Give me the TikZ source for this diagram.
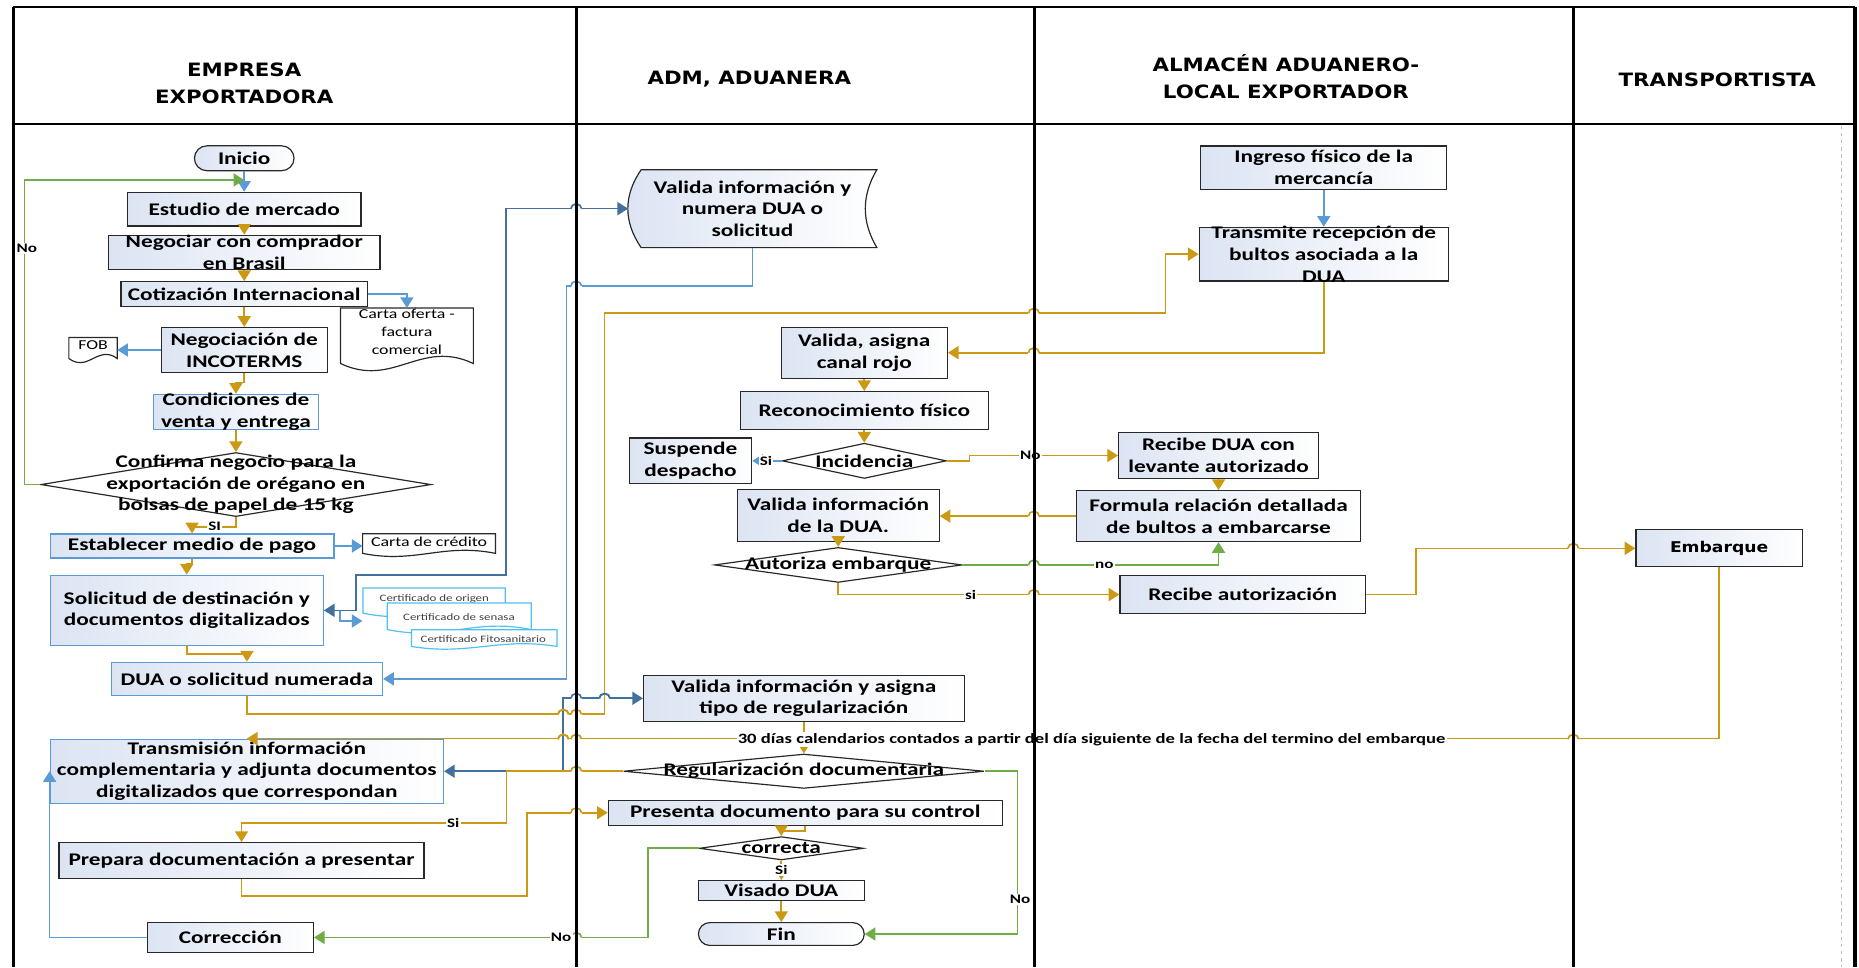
\documentclass[tikz,border=0pt]{standalone}
\usepackage{fontspec}
\setmainfont{Carlito}[FakeStretch=1.31]
\newfontfamily\hdrfont{DejaVu Sans}[FakeStretch=1.16]
\usetikzlibrary{shapes.geometric,arrows.meta,calc}

\definecolor{gd}{RGB}{204,153,20}
\definecolor{gr}{RGB}{112,173,71}
\definecolor{bl}{RGB}{91,155,213}
\definecolor{bd}{RGB}{65,113,156}
\definecolor{cy}{RGB}{79,193,239}
\definecolor{boxl}{RGB}{220,228,243}
\definecolor{edge}{RGB}{40,40,40}

\tikzset{
  every node/.style={inner sep=0pt},
  box/.style={rectangle, draw=edge, line width=1pt, left color=boxl, right color=white},
  bbox/.style={box, draw=bl},
  term/.style={box, rounded corners=9.5pt},
  dia/.style={diamond, draw=edge, line width=1pt, fill=white, aspect=1},
  ghost/.style={rectangle, draw=none},
  txt/.style={align=center, font=\bfseries\fontsize{15}{18.3}\selectfont},
  hdr/.style={align=center, font=\hdrfont\bfseries\fontsize{15.5}{22.5}\selectfont},
  small/.style={align=center, font=\fontsize{11.5}{15}\selectfont},
  tiny/.style={font=\fontsize{8.3}{10}\selectfont, text=black!75},
  lab/.style={font=\bfseries\fontsize{11}{12}\selectfont, fill=white, inner sep=1pt},
  lab30/.style={font=\bfseries\fontsize{12}{13}\selectfont, fill=white, inner sep=1pt},
  tip/.style={-{Triangle[length=9pt,width=11pt]}},
  gold/.style={draw=gd, line width=1.4pt, tip},
  gline/.style={draw=gr, line width=1.4pt, tip},
  bline/.style={draw=bl, line width=1.4pt, tip},
  bboth/.style={draw=bd, line width=1.4pt, {Triangle[length=9pt,width=11pt]}-{Triangle[length=9pt,width=11pt]}},
  lane/.style={draw=black, line width=2.6pt},
}

\newcommand\bx[7]{%
  \node[#6, minimum width=#4pt, minimum height=#5pt] (#1) at (#2,#3) {};
  \node[txt] (#1-t) at (#1.center) {#7};}
\newcommand\docshape[7]{% name,x,y,w,h,c,color
  \node[ghost, minimum width=#4pt, minimum height=#5pt] (#1) at (#2,#3) {};
  \draw[draw=#7, line width=1pt, fill=white] (#1.north west) -- (#1.north east) -- (#1.south east)
    .. controls ($(#1.south east)+(-0.4*#4,-#6)$) and ($(#1.south west)+(0.4*#4,#6)$) .. (#1.south west) -- cycle;}
\newcommand\hop[3]{%
  \fill[white] (#1-4.6,#2-1.6) rectangle (#1+4.6,#2+1.6);
  \draw[#3, line width=1.4pt] (#1-4.5,#2) arc[start angle=180, end angle=360, x radius=4.5, y radius=4];}
\newcommand\hopv[4]{%
  \hop{#1}{#2}{#3}
  \draw[#4, line width=1.4pt] (#1,#2-2) -- (#1,#2+2);
  \draw[#3, line width=1.4pt] (#1-4.5,#2) arc[start angle=180, end angle=360, x radius=4.5, y radius=4];}

\begin{document}
\begin{tikzpicture}[x=1pt,y=-1pt]
\useasboundingbox (0,0) rectangle (1568,816);
\fill[white] (0,0) rectangle (1568,816);

% ---------- headers ----------
\node[hdr] (h1) at (206,70.5) {EMPRESA\\EXPORTADORA};
\node[hdr] (h2) at (632,67) {ADM, ADUANERA};
\node[hdr] (h3) at (1084.6,64.4) {ALMACÉN ADUANERO-\\LOCAL EXPORTADOR};
\node[hdr] (h4) at (1448.4,67.7) {TRANSPORTISTA};

% ---------- lane 1 ----------
\bx{inicio}{206}{133.5}{84}{21}{term, rounded corners=10.5pt}{Inicio}
\bx{est}{206}{176.4}{197}{28.4}{box}{Estudio de mercado}
\bx{neg}{206}{212.8}{229}{28.7}{box}{Negociar con comprador\\en Brasil}
\bx{cot}{206}{248.1}{208}{21}{box}{Cotización Internacional}
\docshape{carta}{343.2}{283.2}{111.7}{46.4}{21}{edge}
\node[small] (carta-t) at (343.2,279.7) {Carta oferta -\\factura\\comercial};
\docshape{fob}{78.5}{293.5}{40.4}{17.4}{12}{edge}
\node[small] (fob-t) at (78.5,291.5) {FOB};
\bx{negc}{206}{295.2}{140}{38}{box}{Negociación de\\INCOTERMS}
\bx{cond}{199}{347.6}{139}{30}{bbox}{Condiciones de\\venta y entrega}
\node[dia, minimum width=329pt, minimum height=54pt] (d1) at (199,408.7) {};
\node[txt] (d1-t) at (199,408.7) {Confirma negocio para la\\exportación de orégano en\\bolsas de papel de 15 kg};
\bx{estab}{162}{460.5}{239.4}{20.2}{bbox}{Establecer medio de pago}
\docshape{cred}{361.9}{458.5}{111.7}{16.1}{9}{edge}
\node[small] (cred-t) at (361.9,457) {Carta de crédito};
\bx{sol}{157.5}{514.8}{230.4}{59.3}{bbox}{Solicitud de destinación y\\documentos digitalizados}
\docshape{c1}{366.2}{506.6}{119.5}{20.8}{10}{cy}
\node[tiny] (c1-t) at (366.3,505.5) {Certificado de origen};
\docshape{c2}{387.3}{519.8}{121.1}{22}{10}{cy}
\node[tiny] (c2-t) at (387.1,520.9) {Certificado de senasa};
\docshape{c3}{408.4}{538.2}{122.3}{13.7}{8}{cy}
\node[tiny] (c3-t) at (407.6,538.9) {Certificado Fitosanitario};
\bx{dua}{208.3}{572.6}{228.7}{28.1}{bbox}{DUA o solicitud numerada}
\bx{trans}{208.2}{650.5}{331.7}{54}{bbox}{Transmisión información\\complementaria y adjunta documentos\\digitalizados que correspondan}
\bx{prep}{203.7}{725.7}{308}{30}{box}{Prepara documentación a presentar}
\bx{corr}{194.3}{790.7}{140}{25}{box}{Corrección}

% ---------- lane 2 ----------
\node[ghost, minimum width=209.4pt, minimum height=65.3pt] (vn) at (634.7,176) {};
\draw[draw=edge, line width=1pt, left color=boxl, right color=white]
  ($(vn.north west)+(11,0)$) -- (vn.north east)
  .. controls ($(vn.north east)+(-13,21.8)$) and ($(vn.south east)+(-13,-21.8)$) .. (vn.south east)
  -- ($(vn.south west)+(11,0)$)
  .. controls ($(vn.south west)+(-4,-21.8)$) and ($(vn.north west)+(-4,21.8)$) .. cycle;
\node[txt] (vn-t) at (vn.center) {Valida información y\\numera DUA o\\solicitud};
\bx{vcr}{729}{297.5}{140}{43}{box}{Valida, asigna\\canal rojo}
\bx{rec}{729}{346.2}{209}{31.8}{box}{Reconocimiento físico}
\node[dia, minimum width=138.3pt, minimum height=29.7pt] (inc) at (729,388.7) {};
\node[txt] (inc-t) at (inc.center) {Incidencia};
\bx{susp}{582.4}{388.7}{103.2}{38.5}{box}{Suspende\\despacho}
\bx{vdua}{707}{434.8}{170.3}{44.2}{box}{Valida información\\de la DUA.}
\node[dia, minimum width=208.6pt, minimum height=29.5pt] (aut) at (707,476.5) {};
\node[txt] (aut-t) at (aut.center) {Autoriza embarque};
\bx{vt}{678}{589}{270.4}{38.8}{box}{Valida información y asigna\\tipo de regularización}
\node[dia, minimum width=304.2pt, minimum height=29pt] (reg) at (678,650.5) {};
\node[txt] (reg-t) at (reg.center) {Regularización documentaria};
\bx{pres}{679.2}{685.5}{332.3}{21.3}{box}{Presenta documento para su control}
\node[dia, minimum width=138.3pt, minimum height=19.7pt] (cor) at (659,715.5) {};
\node[txt] (cor-t) at (cor.center) {correcta};
\bx{vis}{659}{751.2}{139.8}{16.9}{box}{Visado DUA}
\bx{fin}{659}{787.8}{139.8}{19.2}{term}{Fin}

% ---------- lane 3 ----------
\bx{ing}{1116.5}{141.4}{207.3}{36.6}{box}{Ingreso físico de la\\mercancía}
\bx{tr}{1116.5}{214.4}{210}{45.3}{box}{Transmite recepción de\\bultos asociada a la\\DUA}
\bx{rdua}{1027.8}{384.2}{168.7}{38.5}{box}{Recibe DUA con\\levante autorizado}
\bx{form}{1027.8}{435.3}{239.5}{43}{box}{Formula relación detallada\\de bultos a embarcarse}
\bx{rauto}{1048.2}{501.5}{207.2}{31.5}{box}{Recibe autorización}

% ---------- lane 4 ----------
\node[box, minimum width=140.3pt, minimum height=31.2pt] (emb) at (1450,462.5) {};
\node[font=\hdrfont\bfseries\fontsize{12.5}{14}\selectfont] (emb-t) at (emb.center) {Embarque};

% ---------- connectors ----------
\coordinate (jn) at (206,151.8);
\draw[bline] (inicio.south) -- (est.north);
\draw[gline] (d1.west) -- ++(-13.3,0) |- (jn);
\draw[gold] (est.south) -- (neg.north);
\draw[gold] (neg.south) -- (cot.north);
\draw[gold] (cot.south) -- (negc.north);
\draw[bline] (cot.east) -| (carta.north);
\draw[bline] (negc.west) -- (negc.west -| fob.east);
\draw[gold] (negc.south) -- ++(0,8) -| (cond.north);
\draw[gold] (cond.south) -- (d1.north);
\draw[gold] (d1.south) -- ++(0,8.5) -| (estab.north);
\draw[bline] (estab.east) -- (estab.east -| cred.west);
\draw[gold] (estab.south) -- ++(0,4.5) -| (sol.north);
\draw[gold] (sol.south) -- ++(0,6.5) -| (dua.north);
\draw[bline] (sol.east) -- ++(13.5,0) |- ++(19,9);
\draw[bboth] (sol.east) -- ++(27.3,0) |- (426.7,485.2) |- (vn.west);
\draw[bline] (vn.south) |- (477.7,241.2) |- (dua.east);
\draw[gold] (dua.south) |- (510,602.5) |- (983.1,264.2) |- (tr.west);
\draw[bline] (ing.south) -- (tr.north);
\draw[gold] (tr.south) |- (vcr.east);
\draw[gold] (vcr.south) -- (rec.north);
\draw[gold] (rec.south) -- (inc.north);
\draw[bline] (inc.west) -- (susp.east);
\draw[gold] (inc.east) -- ++(19,0) |- (rdua.west);
\draw[gold] (rdua.south) -- (form.north);
\draw[gold] (form.west) -- (form.west -| vdua.east);
\draw[gold] (vdua.south) -- (aut.north);
\draw[gline] (aut.east) -| (form.south);
\draw[gold] (aut.south) |- (rauto.west);
\draw[gold] (rauto.east) -- ++(42.2,0) |- (emb.west);
\draw[gold] (emb.south) |- (trans.north);
\draw[gold] (vt.south) -- (reg.north);
\draw[bboth] (trans.east) -- (475.1,650.5) |- (vt.west);
\draw[gold] (reg.west) -| (427.3,694.4) -| (prep.north);
\draw[gold] (prep.south) |- (444.3,755.7) |- (pres.west);
\draw[gold] (pres.south) -- ++(0,4) -| (cor.north);
\draw[gold] (cor.south) -- (vis.north);
\draw[gold] (vis.south) -- (fin.north);
\draw[gline] (reg.east) -- ++(27.6,0) |- (fin.east);
\draw[gline] (cor.west) -- ++(-43,0) |- (corr.east);
\draw[bline] (corr.west) -| (trans.west);

% ---------- line hops ----------
\hop{486}{176}{bd}
\hop{486}{241.2}{bl}
\hop{872}{264.2}{gd}
\hop{872}{297.5}{gd}
\hop{872}{435.3}{gd}
\hop{872}{476.5}{gr}
\hop{872}{501.5}{gd}
\hop{1327}{462.5}{gd}
\hop{486}{589}{bd}
\hopv{510}{589}{bd}{gd}
\hopv{475.1}{602.5}{gd}{bd}
\hop{486}{602.5}{gd}
\hopv{475.1}{623.5}{gd}{bd}
\hop{486}{623.5}{gd}
\hop{1327}{623.5}{gd}
\hop{486}{650.5}{gd}
\hop{486}{685.5}{gd}
\hop{486}{790.7}{gr}

% ---------- labels ----------
\node[lab] (l1) at (22.7,209.4) {No};
\node[lab] (l2) at (181,444.2) {SI};
\node[lab] (l3) at (646,388.7) {Si};
\node[lab] (l4) at (869,384.2) {No};
\node[lab] (l5) at (931.4,476.5) {no};
\node[lab] (l6) at (818.7,501.5) {si};
\node[lab] (l7) at (382.3,694.4) {Si};
\node[lab] (l8) at (659,733.8) {Si};
\node[lab] (l9) at (860.3,758.6) {No};
\node[lab] (l10) at (473.3,790.7) {No};
\node[lab30] (l30) at (920.7,623.5) {30 días calendarios contados a partir del día siguiente de la fecha del termino del embarque};

% ---------- lanes ----------
\draw[black!25, line width=0.8pt, dashed] (1553,106) -- (1553,816);
\draw[black, line width=2pt] (11,6) -- (1565,6);
\draw[black, line width=2pt] (11,104.6) -- (1565,104.6);
\draw[lane] (11,6) -- (11,816);
\draw[lane] (486,6) -- (486,816);
\draw[lane] (872.4,6) -- (872.4,816);
\draw[lane] (1327,6) -- (1327,816);
\draw[lane] (1564.6,6) -- (1564.6,816);
\end{tikzpicture}
\end{document}
